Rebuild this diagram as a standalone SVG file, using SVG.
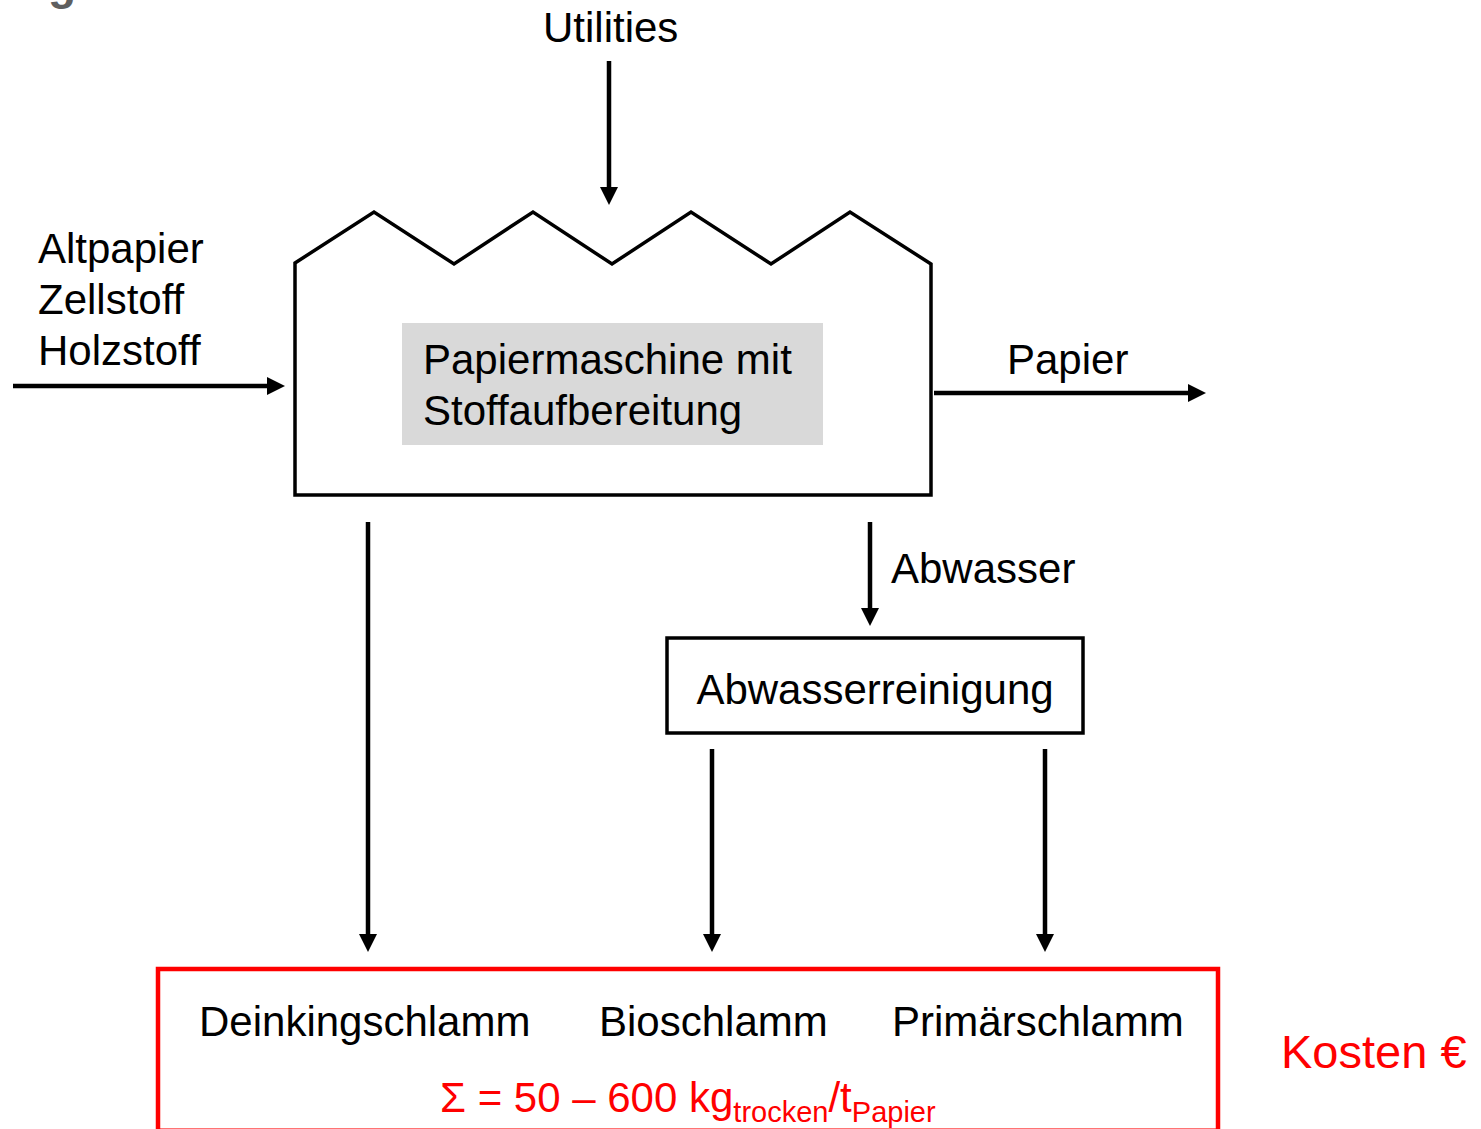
<svg xmlns="http://www.w3.org/2000/svg" width="1481" height="1129" viewBox="0 0 1481 1129">
<defs>
<style>
text{font-family:"Liberation Sans",Arial,sans-serif;font-size:42px;fill:#000}
.red{fill:#ff0000}
.line{stroke:#000;stroke-width:4.5;fill:none}
.sub{font-size:29px}
</style>
<marker id="ah" markerUnits="userSpaceOnUse" markerWidth="18" markerHeight="18" refX="9" refY="9" orient="auto" viewBox="0 0 18 18">
<path d="M0,0 L18,9 L0,18 z" fill="#000"/>
</marker>
</defs>
<rect width="1481" height="1129" fill="#fff"/>
<text x="48" y="-1" style="font-size:46px;font-weight:bold;fill:#5f5f5f">g</text>

<g id="connectors">
<path class="line" d="M609,61 V196" marker-end="url(#ah)"/>
<path class="line" d="M13,386 H276" marker-end="url(#ah)"/>
<path class="line" d="M934,393 H1197" marker-end="url(#ah)"/>
<path class="line" d="M368,522 V943" marker-end="url(#ah)"/>
<path class="line" d="M870,522 V617" marker-end="url(#ah)"/>
<path class="line" d="M712,749 V943" marker-end="url(#ah)"/>
<path class="line" d="M1045,749 V943" marker-end="url(#ah)"/>
</g>

<g id="utilities-label"><text x="543" y="42">Utilities</text></g>
<g id="inputs-label">
<text x="38" y="263">Altpapier</text>
<text x="38" y="314">Zellstoff</text>
<text x="38" y="365">Holzstoff</text>
</g>
<g id="papier-label"><text x="1007" y="374">Papier</text></g>
<g id="abwasser-label"><text x="891" y="583">Abwasser</text></g>

<g id="papiermaschine">
<path d="M295,263 L374,212 L454,264 L533,212 L612,264 L691,212 L771,264 L850,212 L931,264 L931,495 L295,495 Z" fill="none" stroke="#000" stroke-width="3.5" stroke-linejoin="miter"/>
<rect x="402" y="323" width="421" height="122" fill="#d9d9d9"/>
<text x="423" y="374">Papiermaschine mit</text>
<text x="423" y="425">Stoffaufbereitung</text>
</g>

<g id="abwasserreinigung">
<rect x="667" y="638" width="416" height="95" fill="#fff" stroke="#000" stroke-width="3.5"/>
<text x="875" y="704" text-anchor="middle">Abwasserreinigung</text>
</g>

<g id="schlamm">
<rect x="158" y="969" width="1060" height="161.7" fill="none" stroke="#ff0000" stroke-width="4.5"/>
<text x="199" y="1036">Deinkingschlamm</text>
<text x="599" y="1036">Bioschlamm</text>
<text x="892" y="1036">Primärschlamm</text>
<text x="440" y="1112" class="red">Σ = 50 – 600 kg<tspan class="sub red" dy="10">trocken</tspan><tspan dy="-10">/t</tspan><tspan class="sub red" dy="10">Papier</tspan></text>
</g>

<g id="kosten"><text x="1281" y="1068" class="red" style="font-size:47px">Kosten €</text></g>
</svg>
